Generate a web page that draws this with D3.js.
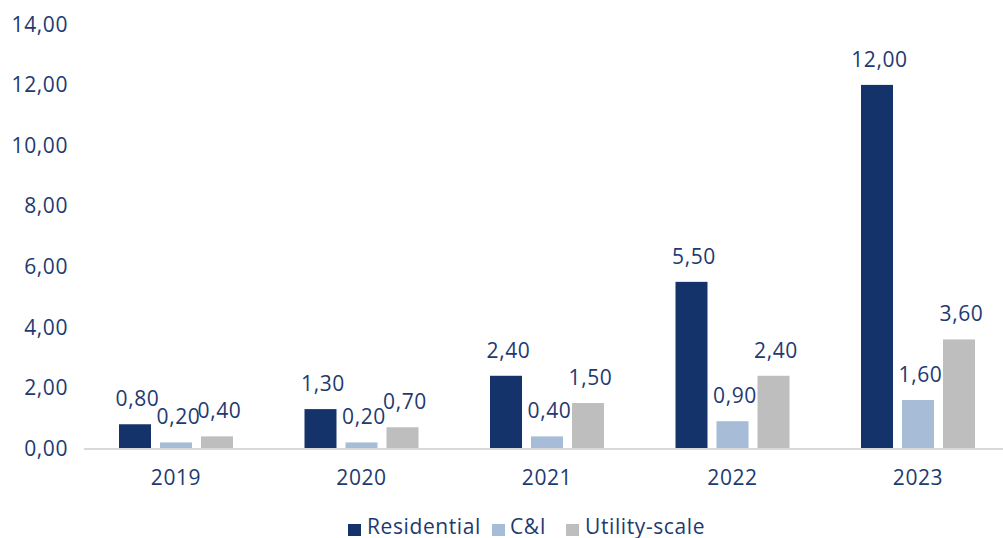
<!DOCTYPE html>
<html>
<head>
<meta charset="utf-8">
<script src="https://cdn.jsdelivr.net/npm/d3@7"></script>
<style>
  html, body { margin: 0; padding: 0; background: #fff; }
  svg { display: block; }
  svg text { font-family: "Open Sans", "Noto Sans", sans-serif; font-weight: 400; font-size: 21px; letter-spacing: 0.6px; }
</style>
</head>
<body>
<svg id="chart" width="1003" height="538"></svg>
<script>
// Yearly capacity by segment
const years = ["2019", "2020", "2021", "2022", "2023"];
const seriesNames = ["Residential", "C&I", "Utility-scale"];
const residential = [0.8, 1.3, 2.4, 5.5, 12.0];
const cni = [0.2, 0.2, 0.4, 0.9, 1.6];
const utility = [0.4, 0.7, 1.5, 2.4, 3.6];
const yTicks = [0, 2, 4, 6, 8, 10, 12, 14];

const colors = ["#14336b", "#a7bcd6", "#bebebe"];
const textColor = "#1e3a70";
const values = [residential, cni, utility];

const svg = d3.select("#chart");
const fmt = v => d3.format(".2f")(v).replace(".", ",");

const x0 = d3.scaleBand().domain(years).range([83.25, 1010.75]).padding(0);
const x1 = d3.scaleBand().domain(seriesNames).range([-57, 57]).paddingInner(9 / 41).paddingOuter(0);
const y = d3.scaleLinear().domain([0, 14]).range([448.5, 24.3]);

// value axis labels
const yAxis = svg.append("g").attr("transform", "translate(68,0)")
  .call(d3.axisLeft(y).tickValues(yTicks).tickFormat(fmt).tickSize(0).tickPadding(0))
  .attr("font-family", null).attr("font-size", null);
yAxis.select(".domain").remove();
yAxis.selectAll("text").attr("fill", textColor);

// bars
const groups = svg.append("g").selectAll("g").data(years).join("g")
  .attr("transform", d => `translate(${x0(d) + x0.bandwidth() / 2},0)`);

seriesNames.forEach((name, si) => {
  groups.append("rect")
    .attr("x", x1(name))
    .attr("width", x1.bandwidth())
    .attr("y", (d, i) => y(values[si][i]))
    .attr("height", (d, i) => y(0) - y(values[si][i]))
    .attr("fill", colors[si]);
  groups.append("text")
    .attr("x", x1(name) + x1.bandwidth() / 2 + 2.5)
    .attr("y", (d, i) => y(values[si][i]) - 18)
    .attr("text-anchor", "middle")
    .attr("fill", textColor)
    .text((d, i) => fmt(values[si][i]));
});

// category axis
const xAxis = svg.append("g").attr("transform", `translate(0,${y(0)})`)
  .call(d3.axisBottom(x0).tickSize(0).tickPadding(0))
  .attr("font-family", null).attr("font-size", null);
xAxis.select(".domain").attr("stroke", "#d9d9d9").attr("stroke-width", 1.8)
  .attr("d", `M84,0.5H1003`);
xAxis.selectAll("text").attr("fill", textColor).attr("dy", null).attr("y", 36.5);

// legend
const legendItems = [
  { name: "Residential", sx: 348, tx: 367 },
  { name: "C&I", sx: 492, tx: 510 },
  { name: "Utility-scale", sx: 566, tx: 585 }
];
const legend = svg.append("g");
legendItems.forEach((it, i) => {
  legend.append("rect").attr("x", it.sx).attr("y", 524).attr("width", 13).attr("height", 12).attr("fill", colors[i]);
  legend.append("text").attr("x", it.tx).attr("y", 534).attr("fill", textColor).text(it.name);
});
</script>
</body>
</html>
